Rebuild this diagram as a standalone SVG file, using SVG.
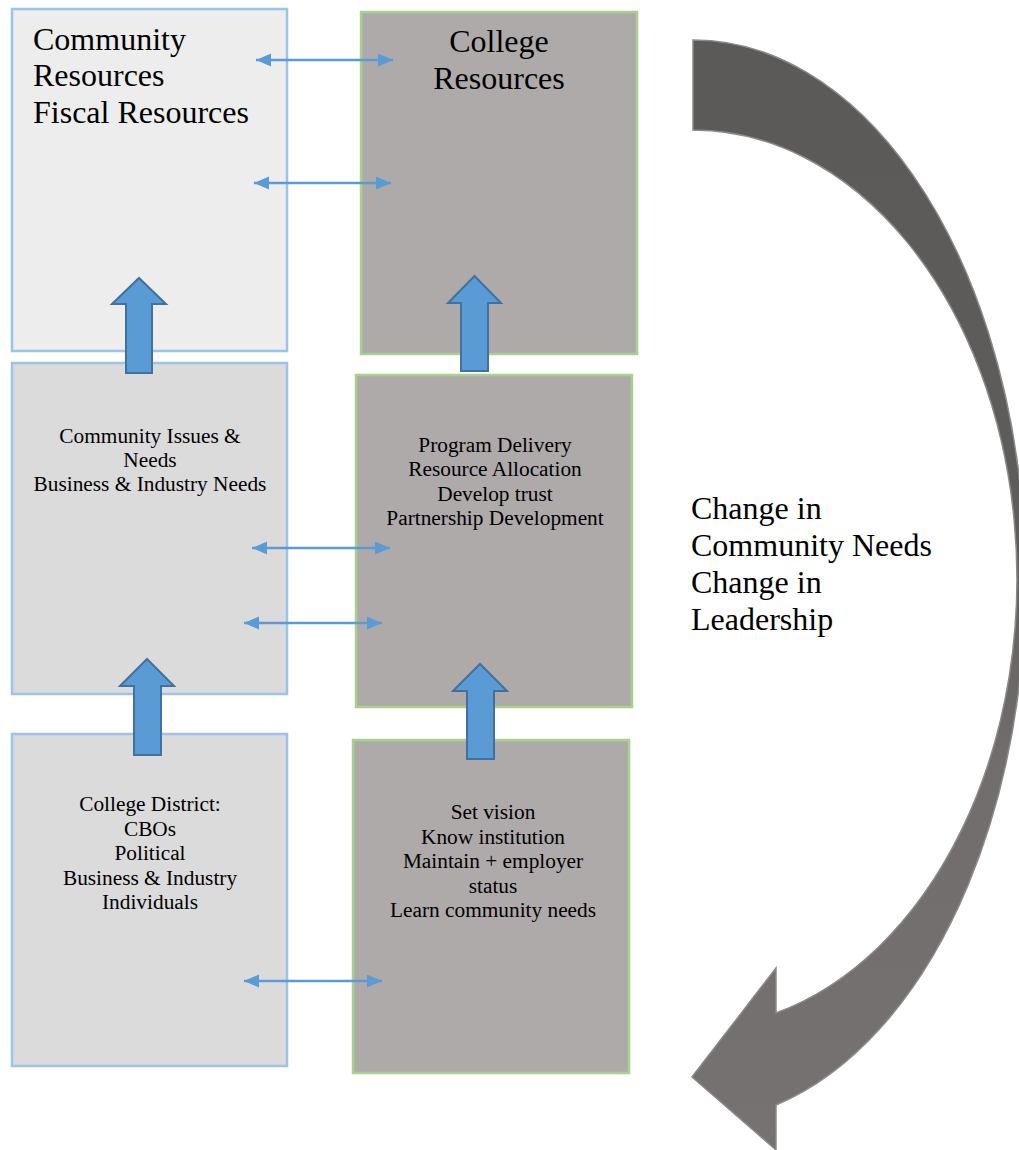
<svg xmlns="http://www.w3.org/2000/svg" width="1019" height="1150" viewBox="0 0 1019 1150">
  <style>
    .boxL { stroke: #9dc3e6; stroke-width: 2.5; }
    .boxR { fill: #aeaaaa; stroke: #a9d18e; stroke-width: 2.5; }
    .big { font-family: "Liberation Serif", "Times New Roman", serif; font-size: 32px; fill: #000; }
    .small { font-family: "Liberation Serif", "Times New Roman", serif; font-size: 21.33px; fill: #000; text-anchor: middle; }
    .block { fill: #5b9bd5; stroke: #41719c; stroke-width: 2; stroke-linejoin: miter; }
    .dbl { stroke: #5b9bd5; stroke-width: 2.5; fill: none; marker-start: url(#ah); marker-end: url(#ah); }
  </style>
  <defs>
    <marker id="ah" markerUnits="userSpaceOnUse" markerWidth="16" markerHeight="14" refX="15" refY="6.5" orient="auto-start-reverse">
      <path d="M0,0 L15,6.5 L0,13 Z" fill="#5b9bd5"/>
    </marker>
    <linearGradient id="curveFill" gradientUnits="userSpaceOnUse" x1="0" y1="40" x2="0" y2="1150">
      <stop offset="0" stop-color="#5c5a58"/>
      <stop offset="0.45" stop-color="#5f5d5b"/>
      <stop offset="0.65" stop-color="#716d6c"/>
      <stop offset="1" stop-color="#767271"/>
    </linearGradient>
  </defs>

  <g id="node-community-resources">
    <rect class="boxL" x="12" y="9" width="275" height="342" fill="#ededed"/>
    <text class="big" x="33" y="50">Community</text>
    <text class="big" x="33" y="86">Resources</text>
    <text class="big" x="33" y="123">Fiscal Resources</text>
  </g>

  <g id="node-college-resources">
    <rect class="boxR" x="361" y="12" width="276" height="342"/>
    <text class="big" x="499" y="52" text-anchor="middle">College</text>
    <text class="big" x="499" y="89" text-anchor="middle">Resources</text>
  </g>

  <g id="node-community-issues">
    <rect class="boxL" x="12" y="363" width="275" height="331" fill="#dbdbdb"/>
    <text class="small" x="150" y="443">Community Issues &amp;</text>
    <text class="small" x="150" y="467">Needs</text>
    <text class="small" x="150" y="491">Business &amp; Industry Needs</text>
  </g>

  <g id="node-program-delivery">
    <rect class="boxR" x="356" y="375" width="276" height="332"/>
    <text class="small" x="495" y="452">Program Delivery</text>
    <text class="small" x="495" y="476">Resource Allocation</text>
    <text class="small" x="495" y="501">Develop trust</text>
    <text class="small" x="495" y="525">Partnership Development</text>
  </g>

  <g id="node-college-district">
    <rect class="boxL" x="12" y="734" width="275" height="332" fill="#dbdbdb"/>
    <text class="small" x="150" y="811">College District:</text>
    <text class="small" x="150" y="835.5">CBOs</text>
    <text class="small" x="150" y="860">Political</text>
    <text class="small" x="150" y="884.5">Business &amp; Industry</text>
    <text class="small" x="150" y="909">Individuals</text>
  </g>

  <g id="node-set-vision">
    <rect class="boxR" x="353" y="740" width="276" height="333"/>
    <text class="small" x="493" y="819">Set vision</text>
    <text class="small" x="493" y="843.5">Know institution</text>
    <text class="small" x="493" y="868">Maintain + employer</text>
    <text class="small" x="493" y="892.5">status</text>
    <text class="small" x="493" y="917">Learn community needs</text>
  </g>

  <g id="node-change-cycle">
    <path d="M693,40 A332,541 0 0 1 776,1105 L776,1150 L692,1077 L776,968 L776,1013 A324,449 0 0 0 693,130 Z" fill="url(#curveFill)" stroke="#8c8a89" stroke-width="1.5"/>
    <text class="big" x="691" y="519">Change in</text>
    <text class="big" x="691" y="556">Community Needs</text>
    <text class="big" x="691" y="593">Change in</text>
    <text class="big" x="691" y="630">Leadership</text>
  </g>

  <g id="connectors">
    <path class="block" d="M112,304 L139,278 L166,304 L152,304 L152,373 L126,373 L126,304 Z"/>
    <path class="block" d="M448,303 L474.5,276 L501,303 L488,303 L488,371 L461,371 L461,303 Z"/>
    <path class="block" d="M120,686 L147,659 L174,686 L161,686 L161,755 L134,755 L134,686 Z"/>
    <path class="block" d="M453,691 L480,664 L507,691 L494,691 L494,759 L467,759 L467,691 Z"/>
    <line class="dbl" x1="256" y1="60" x2="393" y2="60"/>
    <line class="dbl" x1="254" y1="183" x2="391" y2="183"/>
    <line class="dbl" x1="252" y1="548" x2="390" y2="548"/>
    <line class="dbl" x1="244" y1="623" x2="382" y2="623"/>
    <line class="dbl" x1="244" y1="981" x2="382" y2="981"/>
  </g>
</svg>
